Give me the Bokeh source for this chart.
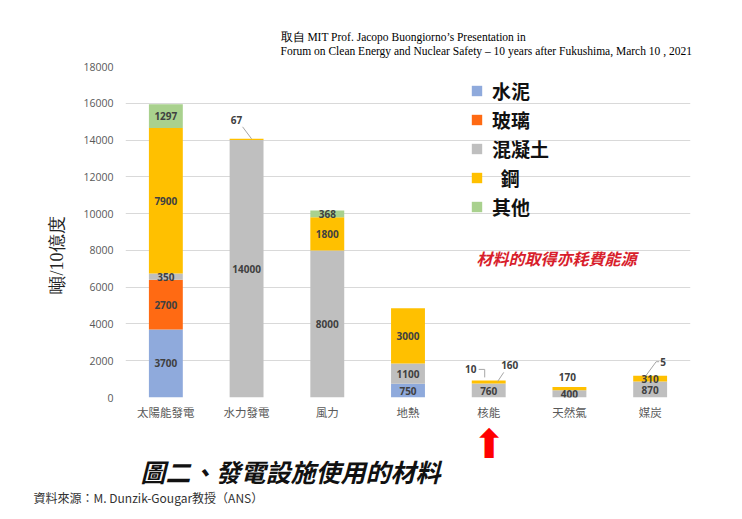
import math
from bokeh.plotting import figure
from bokeh.models import (ColumnDataSource, LabelSet, Label, Title,
                          FactorRange, Range1d, FixedTicker)
from bokeh.core.properties import value
from bokeh.embed import file_html
from bokeh.resources import INLINE

# ---------------- data ----------------
categories = ["太陽能發電", "水力發電", "風力", "地熱", "核能", "天然氣", "媒炭"]
materials = ["水泥", "玻璃", "混凝土", "鋼", "其他"]
legend_labels = ["水泥", "玻璃", "混凝土", "\u00a0\u00a0鋼", "其他"]
cement = [3700, 0, 0, 750, 0, 0, 0]
glass = [2700, 0, 0, 0, 0, 0, 0]
concrete = [350, 14000, 8000, 1100, 760, 400, 870]
steel = [7900, 67, 1800, 3000, 160, 170, 310]
other = [1297, 0, 368, 0, 10, 0, 5]
y_ticks = [0, 2000, 4000, 6000, 8000, 10000, 12000, 14000, 16000, 18000]

title_line1 = "取自 MIT Prof. Jacopo Buongiorno’s  Presentation  in"
title_line2 = "Forum on Clean Energy  and Nuclear  Safety – 10 years  after  Fukushima,  March 10 , 2021"
y_title = "噸/10億度"
note_text = "材料的取得亦耗費能源"
caption = "圖二、發電設施使用的材料"
source_text = "資料來源：M. Dunzik-Gougar教授（ANS）"
pointer = "⬆"

# ---------------- style ----------------
colors = ["#8FAADC", "#FF6A13", "#BFBFBF", "#FFC000", "#A9D18E"]
W, H = 742, 519
FL, FR, FT, FB = 125, 690, 66, 397
YMAX = 18000
xpp = len(categories) / (FR - FL)
ypp = YMAX / (FB - FT)


def X(px):
    return (px - FL) * xpp


def Y(py):
    return (FB - py) * ypp


# callouts for small segments: offsets (px) from (bar centre, stack top)
callouts = {
    ("水力發電", "鋼"): dict(lab=(-10, -19), lead=[(-4, -12), (5, 0)]),
    ("核能", "其他"): dict(lab=(-18, -11), lead=[(-10, -11), (-4, -11), (-4, -3)]),
    ("核能", "鋼"): dict(lab=(21, -15), lead=[(15, -8), (9, 1)]),
    ("天然氣", "鋼"): dict(lab=(-2, -10), lead=None),
    ("媒炭", "其他"): dict(lab=(13, -14), lead=[(9, -14), (6, -14), (-5, 1)]),
}

data = dict(cat=categories)
series = [cement, glass, concrete, steel, other]
for m, s in zip(materials, series):
    data[m] = s
source = ColumnDataSource(data)

p = figure(width=W, height=H, x_range=FactorRange(*categories), y_range=Range1d(0, YMAX),
           output_backend="svg", toolbar_location=None,
           min_border_left=FL, min_border_right=W - FR, min_border_top=FT,
           min_border_bottom=H - FB)
p.outline_line_color = None
p.background_fill_color = "white"
p.border_fill_color = "white"

renderers = p.vbar_stack(materials, x="cat", width=0.42, fill_color=colors, line_color=None,
                         source=source, legend_label=legend_labels)

# axes
p.yaxis.ticker = FixedTicker(ticks=y_ticks)
p.yaxis.axis_line_color = None
p.yaxis.major_tick_line_color = None
p.yaxis.major_tick_out = 0
p.yaxis.minor_tick_line_color = None
p.yaxis.major_label_text_font = "Open Sans"
p.yaxis.major_label_text_font_size = "10.5px"
p.yaxis.major_label_text_color = "#595959"
p.yaxis.major_label_standoff = 12
p.xaxis.axis_line_color = None
p.xaxis.major_tick_line_color = None
p.xaxis.major_tick_out = 0
p.xaxis.major_label_text_font = "Noto Sans CJK TC"
p.xaxis.major_label_text_font_size = "11.5px"
p.xaxis.major_label_text_color = "#595959"
p.xaxis.major_label_standoff = 6
p.xgrid.grid_line_color = None
p.ygrid.grid_line_color = "#D9D9D9"
p.ygrid.grid_line_width = 1

# in-bar labels and callouts
lx, ly, lt = [], [], []
for i, c in enumerate(categories):
    base = 0
    stack_top = sum(ss[i] for ss in series)
    for m, s in zip(materials, series):
        v = s[i]
        if v <= 0:
            continue
        if (c, m) in callouts:
            co = callouts[(c, m)]
            cx = i + 0.5
            lx.append(cx + co["lab"][0] * xpp)
            ly.append(stack_top - co["lab"][1] * ypp)
            lt.append(str(v))
            if co["lead"]:
                xs = [cx + dx * xpp for dx, dy in co["lead"]]
                ys = [stack_top - dy * ypp for dx, dy in co["lead"]]
                p.line(xs, ys, line_color="#A6A6A6", line_width=1)
        else:
            lx.append(i + 0.5)
            ly.append(base + v / 2)
            lt.append(str(v))
        base += v

lab_src = ColumnDataSource(dict(x=lx, y=ly, t=lt))
p.add_layout(LabelSet(x="x", y="y", text="t", source=lab_src, text_align="center",
                      text_baseline="middle", text_font=value("Open Sans"),
                      text_font_style="bold", text_font_size="10px", text_color="#404040"))

# legend
lg = p.legend[0]
lg.location = (345, 177)
lg.border_line_color = None
lg.background_fill_alpha = 0
lg.padding = 0
lg.margin = 0
lg.spacing = 2
lg.label_height = 22
lg.glyph_width = 13
lg.glyph_height = 13
lg.label_standoff = 9
lg.label_text_font = "Noto Sans CJK TC"
lg.label_text_font_size = "19px"
lg.label_text_font_style = "bold"
lg.label_text_color = "#111111"

# red note inside the plot area
p.add_layout(Label(x=X(556), y=Y(257), text=note_text, text_font="Noto Sans CJK TC",
                   text_font_size="16px", text_font_style="bold italic", text_color="#D81E2C",
                   text_align="center", text_baseline="middle"))

# two-line heading above
p.add_layout(Title(text=title_line1 + "\n" + title_line2, align="left", offset=280 - FL,
                   standoff=14, vertical_align="top", text_line_height=1.22,
                   text_font="Liberation Serif", text_font_size="11.5px",
                   text_font_style="normal", text_color="#000000"), "above")

# y-axis title on the left (offset measured up from the frame bottom)
p.add_layout(Title(text=y_title, align="left", offset=FB - 293, standoff=25,
                   vertical_align="middle",
                   text_font="Liberation Serif", text_font_size="18px",
                   text_font_style="normal", text_color="#222222"), "left")

# below: red pointer, caption, source
p.add_layout(Title(text=pointer, align="left", offset=489 - FL - 17, standoff=-8,
                   text_font="DejaVu Sans", text_font_size="40px",
                   text_font_style="normal", text_color="#FF0000"), "below")
p.add_layout(Title(text=caption, align="left", offset=140 - FL, standoff=-24,
                   text_font="Noto Sans CJK TC", text_font_size="25px",
                   text_font_style="bold italic", text_color="#111111"), "below")
p.add_layout(Title(text=source_text, align="left", offset=33 - FL, standoff=21,
                   text_font="Noto Sans CJK TC", text_font_size="12px",
                   text_font_style="normal", text_color="#333333"), "below")

open("out.html", "w").write(file_html(p, INLINE))
